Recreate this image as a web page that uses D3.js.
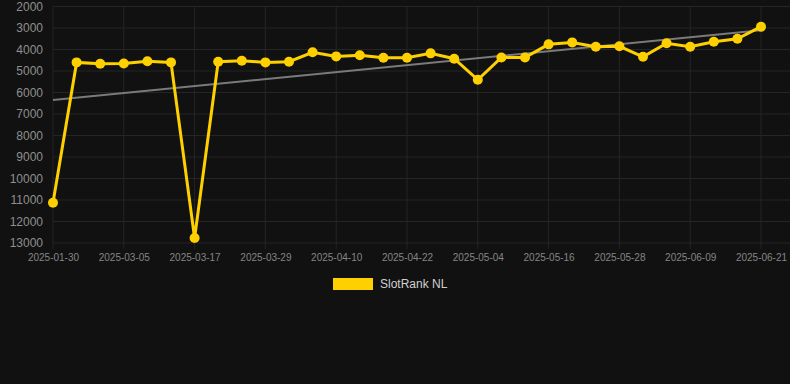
<!DOCTYPE html>
<html>
<head>
<meta charset="utf-8">
<script src="https://cdn.jsdelivr.net/npm/d3@7/dist/d3.min.js"></script>
<style>
  html, body { margin: 0; padding: 0; background: #111111; }
  svg { display: block; }
</style>
</head>
<body>
<svg id="chart" width="790" height="384"></svg>
<script>
const categories = [
  "2025-01-30","2025-02-25","2025-03-01","2025-03-05","2025-03-09","2025-03-13",
  "2025-03-17","2025-03-21","2025-03-25","2025-03-29","2025-04-02","2025-04-06",
  "2025-04-10","2025-04-14","2025-04-18","2025-04-22","2025-04-26","2025-04-30",
  "2025-05-04","2025-05-08","2025-05-12","2025-05-16","2025-05-20","2025-05-24",
  "2025-05-28","2025-06-01","2025-06-05","2025-06-09","2025-06-13","2025-06-17",
  "2025-06-21"
];
const rankValues = [
  11130, 4600, 4660, 4650, 4550, 4600,
  12770, 4570, 4520, 4600, 4570, 4130,
  4320, 4270, 4380, 4380, 4180, 4430,
  5410, 4370, 4370, 3760, 3670, 3870,
  3850, 4340, 3710, 3870, 3640, 3500,
  2940
];
const trendValues = [6350, 3110];
const yTicks = [2000,3000,4000,5000,6000,7000,8000,9000,10000,11000,12000,13000];
const xTickLabels = ["2025-01-30","2025-03-05","2025-03-17","2025-03-29","2025-04-10",
  "2025-04-22","2025-05-04","2025-05-16","2025-05-28","2025-06-09","2025-06-21"];
const seriesName = "SlotRank NL";

const svg = d3.select("#chart");
const plotLeft = 53, plotRightPt = 761, plotRight = 790, plotTop = 6.5, plotBottom = 243;
const lineColor = "#ffd000";
const gridColor = "#252525";

const x = d3.scalePoint().domain(categories).range([plotLeft, plotRightPt]);
const y = d3.scaleLinear().domain([2000, 13000]).range([plotTop, plotBottom]);

// horizontal grid
svg.append("g").selectAll("line").data(yTicks).join("line")
  .attr("x1", plotLeft).attr("x2", plotRight)
  .attr("y1", d => y(d)).attr("y2", d => y(d))
  .attr("stroke", gridColor).attr("stroke-width", 1);

// vertical grid + ticks
svg.append("g").selectAll("line").data(xTickLabels).join("line")
  .attr("x1", d => x(d)).attr("x2", d => x(d))
  .attr("y1", plotTop).attr("y2", plotBottom + 6)
  .attr("stroke", gridColor).attr("stroke-width", 1);

// y axis labels
const yAxis = d3.axisLeft(y).tickValues(yTicks).tickSize(0).tickPadding(0).tickFormat(d => String(d));
const gy = svg.append("g").attr("transform", `translate(${plotLeft - 10},0)`).call(yAxis);
gy.select(".domain").remove();
gy.selectAll("text").attr("fill", "#8f8f8f").attr("font-size", "12px")
  .attr("font-family", "Liberation Sans, Arial, sans-serif");

// x axis labels
const xAxis = d3.axisBottom(x).tickValues(xTickLabels).tickSize(0).tickPadding(0);
const gx = svg.append("g").attr("transform", `translate(0,${plotBottom + 11})`).call(xAxis);
gx.select(".domain").remove();
gx.selectAll("text").attr("fill", "#858585").attr("font-size", "10px")
  .attr("font-family", "Liberation Sans, Arial, sans-serif");

// trend line
svg.append("line")
  .attr("x1", x(categories[0])).attr("x2", x(categories[categories.length - 1]))
  .attr("y1", y(trendValues[0])).attr("y2", y(trendValues[1]))
  .attr("stroke", "#7a7a7a").attr("stroke-width", 2);

// series line
const line = d3.line().x((d, i) => x(categories[i])).y(d => y(d));
svg.append("path").datum(rankValues)
  .attr("d", line).attr("fill", "none")
  .attr("stroke", lineColor).attr("stroke-width", 3).attr("stroke-linejoin", "miter");

svg.append("g").selectAll("circle").data(rankValues).join("circle")
  .attr("cx", (d, i) => x(categories[i])).attr("cy", d => y(d))
  .attr("r", 5).attr("fill", lineColor);

// legend
const lg = svg.append("g");
lg.append("rect").attr("x", 333).attr("y", 278).attr("width", 40).attr("height", 12)
  .attr("fill", lineColor);
lg.append("text").attr("x", 380).attr("y", 288).text(seriesName)
  .attr("fill", "#d0d0d0").attr("font-size", "12px")
  .attr("font-family", "Liberation Sans, Arial, sans-serif");
</script>
</body>
</html>
